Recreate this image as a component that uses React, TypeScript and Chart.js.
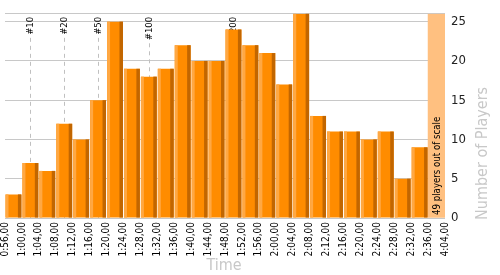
import React, { useEffect, useRef } from 'react';
import { Chart, registerables } from 'chart.js';

Chart.register(...registerables);

const timeLabels = [
  '0:56,00', '1:00,00', '1:04,00', '1:08,00', '1:12,00', '1:16,00', '1:20,00',
  '1:24,00', '1:28,00', '1:32,00', '1:36,00', '1:40,00', '1:44,00', '1:48,00',
  '1:52,00', '1:56,00', '2:00,00', '2:04,00', '2:08,00', '2:12,00', '2:16,00',
  '2:20,00', '2:24,00', '2:28,00', '2:32,00', '2:36,00', '4:04,00',
];
const playerCounts = [3, 7, 6, 12, 10, 15, 25, 19, 18, 19, 22, 20, 20, 24, 22, 21, 17, 26, 13, 11, 11, 10, 11, 5, 9];
const outOfScaleCount = 49;
const yMax = 26;
const yTicks = [0, 5, 10, 15, 20, 25];
const markerLabels = ['#10', '#20', '#50', '#100', '#200'];
const markerBins = [1, 3, 5, 8, 13];

const FONT = '"DejaVu Sans Condensed", "DejaVu Sans", sans-serif';

const decoPlugin = {
  id: 'deco',
  beforeDatasetsDraw(chart: any) {
    const { ctx, chartArea, scales } = chart;
    const xs = scales.x;
    ctx.save();
    ctx.font = `9.5px ${FONT}`;
    markerLabels.forEach((lab, i) => {
      const x = Math.round(xs.getPixelForValue(markerBins[i] + 0.5)) + 0.5;
      const top = chartArea.top + 3;
      ctx.save();
      ctx.translate(x + 0.5, top);
      ctx.rotate(-Math.PI / 2);
      ctx.fillStyle = '#000';
      ctx.textAlign = 'right';
      ctx.textBaseline = 'middle';
      ctx.fillText(lab, 0, 0);
      ctx.restore();
      const w = ctx.measureText(lab).width;
      ctx.strokeStyle = '#c0c0c0';
      ctx.lineWidth = 1;
      ctx.setLineDash([4, 4]);
      ctx.beginPath();
      ctx.moveTo(x, top + w + 3);
      ctx.lineTo(x, chartArea.bottom);
      ctx.stroke();
    });
    ctx.restore();
  },
  afterDatasetsDraw(chart: any) {
    const { ctx, chartArea } = chart;
    const meta = chart.getDatasetMeta(0);
    ctx.save();
    meta.data.forEach((el: any) => {
      const { x, y, base, width } = el.getProps(['x', 'y', 'base', 'width'], true);
      const left = x - width / 2;
      const right = x + width / 2;
      ctx.fillStyle = '#ffa843';
      ctx.fillRect(left, y, 3, base - y);
      ctx.fillStyle = '#c26600';
      ctx.fillRect(right - 3.5, y, 3.5, base - y);
    });
    // band text
    const bandMeta = chart.getDatasetMeta(1);
    const bandEl = bandMeta.data[0];
    if (bandEl) {
      ctx.save();
      ctx.translate(bandEl.x + 0.5, chartArea.bottom - 3);
      ctx.rotate(-Math.PI / 2);
      ctx.font = `9.6px ${FONT}`;
      ctx.fillStyle = '#000';
      ctx.textAlign = 'left';
      ctx.textBaseline = 'middle';
      ctx.fillText(`${outOfScaleCount} players out of scale`, 0, 0);
      ctx.restore();
    }
    // axis titles
    ctx.fillStyle = '#c8c8c8';
    ctx.font = `16px ${FONT}`;
    ctx.textAlign = 'center';
    ctx.textBaseline = 'alphabetic';
    ctx.fillText('Time', 224, 270);
    ctx.save();
    ctx.translate(487, 220);
    ctx.rotate(-Math.PI / 2);
    ctx.textAlign = 'left';
    ctx.fillText('Number of Players', 0, 0);
    ctx.restore();
    ctx.restore();
  },
};

export default function App() {
  const ref = useRef<HTMLCanvasElement>(null);
  useEffect(() => {
    document.body.style.margin = '0';
    const canvas = ref.current!;
    const chart = new Chart(canvas, {
      type: 'bar',
      data: {
        datasets: [
          {
            data: playerCounts.map((v, i) => ({ x: i + 0.5, y: v })),
            backgroundColor: '#ff8c00',
            borderWidth: 0,
            barPercentage: 0.94,
            categoryPercentage: 1,
            grouped: false,
          },
          {
            data: [{ x: playerCounts.length + 0.5, y: yMax }],
            backgroundColor: '#ffc080',
            borderWidth: 0,
            barPercentage: 1,
            categoryPercentage: 1,
            grouped: false,
          },
        ],
      },
      options: {
        animation: false,
        responsive: false,
        maintainAspectRatio: false,
        layout: { padding: { left: 5, top: 10, right: 0, bottom: 0 } },
        plugins: { legend: { display: false }, tooltip: { enabled: false } },
        scales: {
          x: {
            type: 'linear',
            min: 0,
            max: timeLabels.length - 1,
            offset: false,
            afterFit: (s: any) => { s.height = 57; s.paddingLeft = 0; s.paddingRight = 0; },
            afterBuildTicks: (s: any) => {
              s.ticks = timeLabels.map((_, i) => ({ value: i }));
            },
            ticks: {
              autoSkip: false,
              maxRotation: 90,
              minRotation: 90,
              padding: 4,
              color: '#000',
              font: { family: FONT, size: 10 },
              callback: (v: any) => timeLabels[v] ?? '',
            },
            grid: {
              drawTicks: false,
              color: (c: any) => (c.tick && c.tick.value === 0 ? '#c8c8c8' : 'rgba(0,0,0,0)'),
            },
            border: { display: false },
          },
          y: {
            position: 'right',
            min: 0,
            max: yMax,
            afterFit: (s: any) => { s.width = 55; },
            afterBuildTicks: (s: any) => {
              s.ticks = [...yTicks, yMax].map((v) => ({ value: v }));
            },
            ticks: {
              padding: 6,
              color: '#222',
              font: { family: FONT, size: 13 },
              callback: (v: any) => (yTicks.includes(v) ? String(v) : ''),
            },
            grid: { drawTicks: false, color: '#c8c8c8' },
            border: { display: false },
          },
        },
      },
      plugins: [decoPlugin],
    } as any);
    return () => chart.destroy();
  }, []);
  return (
    <div style={{ width: 500, height: 275 }}>
      <canvas ref={ref} width={500} height={275} />
    </div>
  );
}
